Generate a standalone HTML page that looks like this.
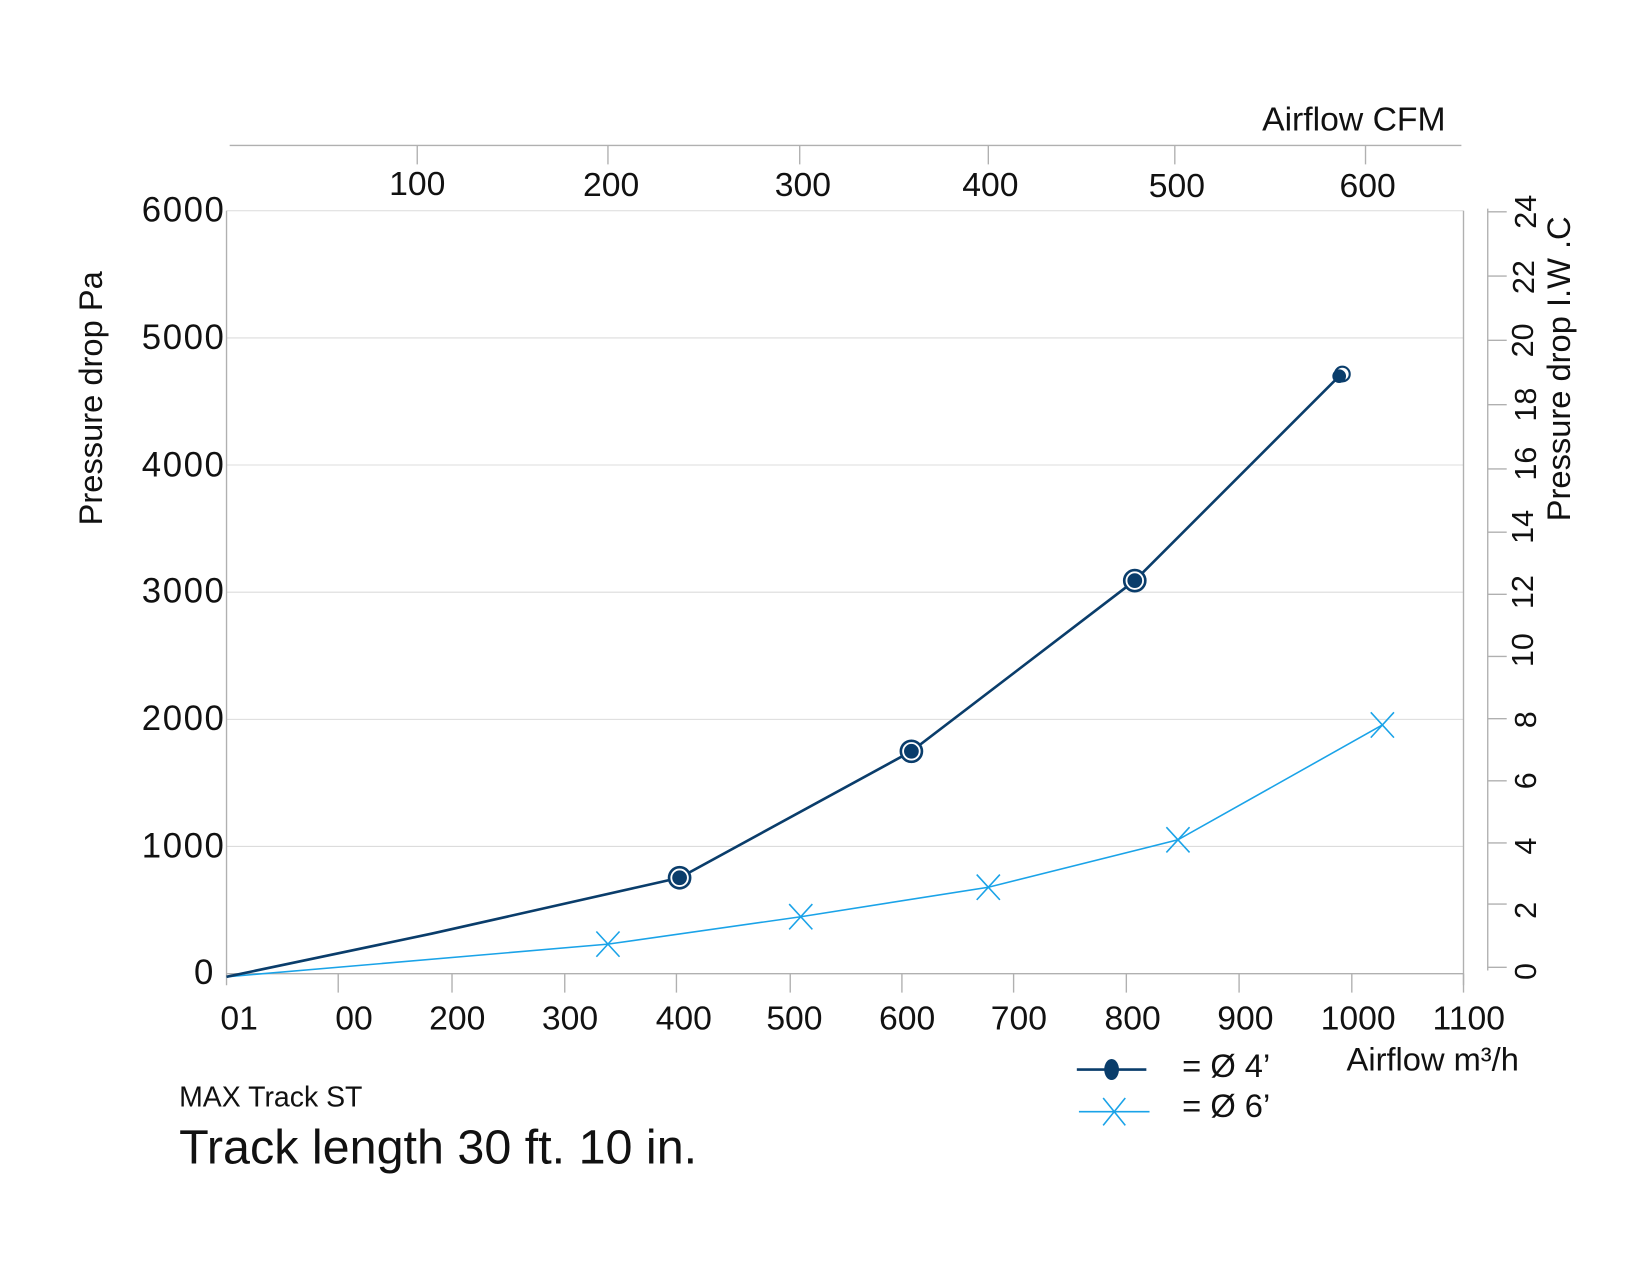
<!DOCTYPE html>
<html><head><style>html,body{margin:0;padding:0;background:#fff}svg{display:block}</style></head>
<body>
<svg width="1650" height="1275" viewBox="0 0 1566 1210" preserveAspectRatio="none" xmlns="http://www.w3.org/2000/svg" font-family="Liberation Sans, DejaVu Sans, sans-serif" fill="#111">
<!-- grid -->
<g stroke="#dcdcdc" stroke-width="1">
<line x1="215" y1="200" x2="1389" y2="200"/>
<line x1="215" y1="320.7" x2="1389" y2="320.7"/>
<line x1="215" y1="441.3" x2="1389" y2="441.3"/>
<line x1="215" y1="562" x2="1389" y2="562"/>
<line x1="215" y1="682.7" x2="1389" y2="682.7"/>
<line x1="215" y1="803.3" x2="1389" y2="803.3"/>
</g>
<g stroke="#b0b0b0" stroke-width="1.3">
<line x1="215" y1="200" x2="215" y2="935"/>
<line x1="1389" y1="200" x2="1389" y2="935"/>
<line x1="215" y1="924" x2="1389" y2="924"/>
<line x1="321" y1="924" x2="321" y2="942"/><line x1="429" y1="924" x2="429" y2="942"/>
<line x1="536" y1="924" x2="536" y2="942"/><line x1="642" y1="924" x2="642" y2="942"/>
<line x1="750" y1="924" x2="750" y2="942"/><line x1="856" y1="924" x2="856" y2="942"/>
<line x1="962" y1="924" x2="962" y2="942"/><line x1="1069" y1="924" x2="1069" y2="942"/>
<line x1="1176" y1="924" x2="1176" y2="942"/><line x1="1283" y1="924" x2="1283" y2="942"/>
<line x1="1389" y1="924" x2="1389" y2="942"/>
<line x1="218" y1="138" x2="1387" y2="138"/>
<line x1="396" y1="138" x2="396" y2="156"/><line x1="577" y1="138" x2="577" y2="156"/>
<line x1="759" y1="138" x2="759" y2="156"/><line x1="938" y1="138" x2="938" y2="156"/>
<line x1="1115" y1="138" x2="1115" y2="156"/><line x1="1296" y1="138" x2="1296" y2="156"/>
<line x1="1412" y1="198" x2="1412" y2="921"/>
<line x1="1412" y1="201" x2="1430" y2="201"/><line x1="1412" y1="262" x2="1430" y2="262"/>
<line x1="1412" y1="323" x2="1430" y2="323"/><line x1="1412" y1="384" x2="1430" y2="384"/>
<line x1="1412" y1="445" x2="1430" y2="445"/><line x1="1412" y1="505" x2="1430" y2="505"/>
<line x1="1412" y1="564" x2="1430" y2="564"/><line x1="1412" y1="623" x2="1430" y2="623"/>
<line x1="1412" y1="682" x2="1430" y2="682"/><line x1="1412" y1="741" x2="1430" y2="741"/>
<line x1="1412" y1="800" x2="1430" y2="800"/><line x1="1412" y1="858" x2="1430" y2="858"/>
<line x1="1412" y1="918" x2="1430" y2="918"/>
</g>
<g font-size="33" text-anchor="end" letter-spacing="1.5">
<text x="214" y="210">6000</text><text x="214" y="331">5000</text>
<text x="214" y="452">4000</text><text x="214" y="572">3000</text>
<text x="214" y="693">2000</text><text x="214" y="814">1000</text>
<text x="204" y="934">0</text>
</g>
<text transform="translate(97,378) rotate(-90)" font-size="31" text-anchor="middle">Pressure drop Pa</text>
<g font-size="32" text-anchor="middle">
<text x="227" y="977">01</text><text x="336" y="977">00</text><text x="434" y="977">200</text>
<text x="541" y="977">300</text><text x="649" y="977">400</text><text x="754" y="977">500</text>
<text x="861" y="977">600</text><text x="967" y="977">700</text><text x="1075" y="977">800</text>
<text x="1182" y="977">900</text><text x="1289" y="977">1000</text><text x="1394" y="977">1100</text>
</g>
<g font-size="32" text-anchor="middle">
<text x="396" y="185">100</text><text x="580" y="186">200</text><text x="762" y="186">300</text>
<text x="940" y="186">400</text><text x="1117" y="187">500</text><text x="1298" y="187">600</text>
</g>
<text x="1372" y="124" font-size="32" text-anchor="end">Airflow CFM</text>
<g font-size="29" text-anchor="middle">
<text transform="translate(1458,201) rotate(-90)">24</text>
<text transform="translate(1456,263) rotate(-90)">22</text>
<text transform="translate(1455,323) rotate(-90)">20</text>
<text transform="translate(1458,384) rotate(-90)">18</text>
<text transform="translate(1458,440) rotate(-90)">16</text>
<text transform="translate(1455,500) rotate(-90)">14</text>
<text transform="translate(1455,562) rotate(-90)">12</text>
<text transform="translate(1455,617) rotate(-90)">10</text>
<text transform="translate(1458,683) rotate(-90)">8</text>
<text transform="translate(1458,741) rotate(-90)">6</text>
<text transform="translate(1458,803) rotate(-90)">4</text>
<text transform="translate(1458,864) rotate(-90)">2</text>
<text transform="translate(1458,922) rotate(-90)">0</text>
</g>
<text transform="translate(1490,350) rotate(-90)" font-size="31" text-anchor="middle">Pressure drop I.W .C</text>
<polyline points="215,927 577,896 760,870 938,842 1118,797 1312,688" fill="none" stroke="#1aa3e8" stroke-width="1.5"/>
<g stroke="#1aa3e8" stroke-width="1.5">
<path d="M566,884 L588,908 M566,908 L588,884"/>
<path d="M749,858 L771,882 M749,882 L771,858"/>
<path d="M927,830 L949,854 M927,854 L949,830"/>
<path d="M1107,785 L1129,809 M1107,809 L1129,785"/>
<path d="M1301,676 L1323,700 M1301,700 L1323,676"/>
</g>
<polyline points="215,927 410,886 645,833 865,713 1077,551 1272,356" fill="none" stroke="#0a3d6b" stroke-width="2.5"/>
<g fill="#0a3d6b" stroke="#0a3d6b">
<circle cx="645" cy="833" r="10" fill="#fff" stroke-width="2.5"/><circle cx="645" cy="833" r="6.5"/>
<circle cx="865" cy="713" r="10" fill="#fff" stroke-width="2.5"/><circle cx="865" cy="713" r="6.5"/>
<circle cx="1077" cy="551" r="10" fill="#fff" stroke-width="2.5"/><circle cx="1077" cy="551" r="6.5"/>
<circle cx="1274" cy="355" r="7" fill="#fff" stroke-width="2"/><circle cx="1271" cy="357" r="6"/>
</g>
<line x1="1022" y1="1015" x2="1088" y2="1015" stroke="#0a3d6b" stroke-width="2.5"/>
<ellipse cx="1055" cy="1015" rx="7" ry="10" fill="#0a3d6b"/>
<text x="1122" y="1022" font-size="31">= Ø 4’</text>
<line x1="1024" y1="1055" x2="1091" y2="1055" stroke="#1aa3e8" stroke-width="1.5"/>
<path d="M1047,1042 L1068,1068 M1047,1068 L1068,1042" stroke="#1aa3e8" stroke-width="1.5"/>
<text x="1122" y="1060" font-size="31">= Ø 6’</text>
<text x="1278" y="1016" font-size="31">Airflow m³/h</text>
<text x="170" y="1050" font-size="27">MAX Track ST</text>
<text x="170" y="1104" font-size="46">Track length 30 ft. 10 in.</text>
</svg>
</body></html>
